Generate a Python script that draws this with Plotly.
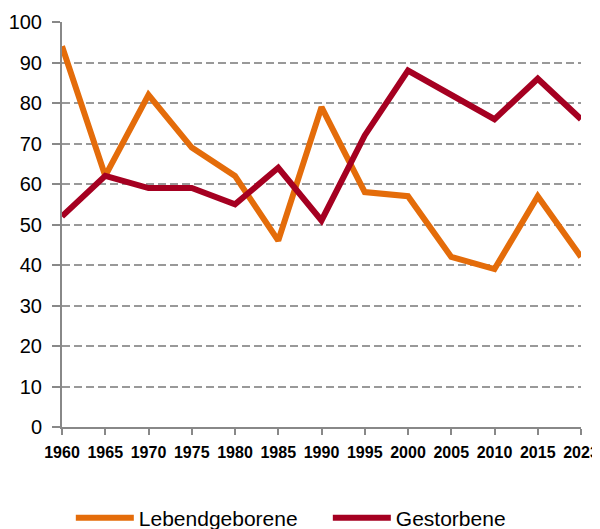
import plotly.graph_objects as go

years = ["1960", "1965", "1970", "1975", "1980", "1985", "1990", "1995", "2000", "2005", "2010", "2015", "2023"]
lebendgeborene = [94, 62, 82, 69, 62, 46, 79, 58, 57, 42, 39, 57, 42]
gestorbene = [52, 62, 59, 59, 55, 64, 51, 72, 88, 82, 76, 86, 76]
y_ticks = [0, 10, 20, 30, 40, 50, 60, 70, 80, 90, 100]

fig = go.Figure()
fig.add_trace(go.Scatter(x=years, y=lebendgeborene, mode="lines", name="Lebendgeborene",
                         line=dict(color="#E46C0A", width=6)))
fig.add_trace(go.Scatter(x=years, y=gestorbene, mode="lines", name="Gestorbene",
                         line=dict(color="#A50021", width=6)))

fig.update_layout(
    width=592, height=521,
    margin=dict(l=54, r=19, t=14, b=102, autoexpand=False),
    paper_bgcolor="white", plot_bgcolor="white",
    font=dict(family="Liberation Sans, Arial, sans-serif", color="#000000"),
    showlegend=True,
    legend=dict(orientation="h", x=0.017, xanchor="left", y=-0.2247, yanchor="middle",
                font=dict(size=21, family="Liberation Sans, Arial, sans-serif"),
                itemwidth=58, entrywidth=184, traceorder="normal"),
)
fig.update_xaxes(
    type="category", range=[0, len(years) - 1], automargin=False,
    showline=True, linecolor="#888888", linewidth=2,
    ticks="outside", tickcolor="#888888", ticklen=6, tickwidth=2,
    ticklabelstandoff=4,
    tickfont=dict(family="Liberation Sans, Arial, sans-serif", size=16, color="#000000", weight="bold"),
    showgrid=False, zeroline=False,
)
fig.update_yaxes(
    range=[0, 100], tickvals=y_ticks, automargin=False,
    showline=True, linecolor="#888888", linewidth=2,
    ticks="outside", tickcolor="#888888", ticklen=8, tickwidth=2,
    ticklabelstandoff=6,
    tickfont=dict(size=20, color="#000000"),
    showgrid=True, gridcolor="#999999", griddash="8px,4px", gridwidth=1.5,
    zeroline=False,
)

fig.write_html("out.html")
